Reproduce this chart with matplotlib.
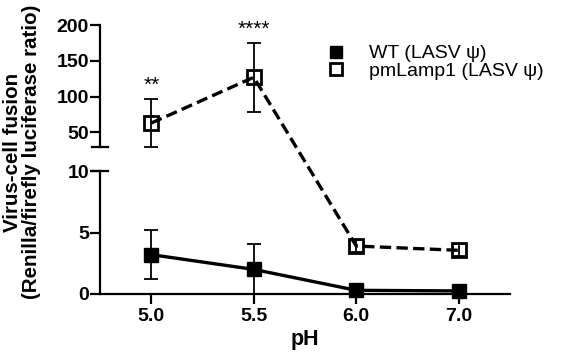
import matplotlib
matplotlib.use("Agg")
import matplotlib.pyplot as plt
from matplotlib.lines import Line2D
import numpy as np

plt.rcParams['font.family'] = ['Liberation Sans', 'DejaVu Sans']

ph_labels = ["5.0", "5.5", "6.0", "7.0"]
wt_mean = [3.2, 2.0, 0.3, 0.25]
wt_err = [2.0, 2.1, 0.1, 0.1]
pm_mean = [63, 127, 3.9, 3.55]
pm_err = [34, 48, 0.45, 0.5]
signif = ["**", "****", "", ""]
series_names = ["WT (LASV \u03c8)", "pmLamp1 (LASV \u03c8)"]

W, H = 566, 354
fig = plt.figure(figsize=(W / 100, H / 100), dpi=100)
axL, axR = 100 / W, 510 / W
ax_bot = fig.add_axes([axL, 1 - 294 / H, axR - axL, (294 - 171) / H])
ax_top = fig.add_axes([axL, 1 - 146.7 / H, axR - axL, (146.7 - 25) / H])

x = np.arange(len(ph_labels))
lw_sp = 1.6
tick_fs = 14
for ax in (ax_bot, ax_top):
    ax.set_xlim(-0.5, 3.5)
    for s in ("top", "right"):
        ax.spines[s].set_visible(False)
    ax.spines["left"].set_linewidth(lw_sp)
    ax.spines["bottom"].set_linewidth(lw_sp)
    ax.tick_params(axis="y", length=7, width=lw_sp, labelsize=tick_fs, pad=1)
    ax.patch.set_alpha(0)

ax_top.spines["bottom"].set_visible(False)
ax_top.set_xticks([])
ax_top.set_ylim(30, 200)
ax_top.set_yticks([50, 100, 150, 200])
ax_top.set_yticklabels(["50", "100", "150", "200"], fontweight="bold")

ax_bot.set_ylim(0, 10)
ax_bot.set_yticks([0, 5, 10])
ax_bot.set_yticklabels(["0", "5", "10"], fontweight="bold")
ax_bot.set_xticks(x)
ax_bot.set_xticklabels(ph_labels, fontweight="bold")
ax_bot.tick_params(axis="x", length=7, width=lw_sp, labelsize=tick_fs, pad=3)

# break marks
ax_top.plot([-0.02, 0.02], [30, 30], transform=ax_top.get_yaxis_transform(),
            color="black", lw=lw_sp, clip_on=False)
ax_bot.plot([-0.02, 0.02], [10, 10], transform=ax_bot.get_yaxis_transform(),
            color="black", lw=lw_sp, clip_on=False)

# WT series (bottom axis)
ax_bot.errorbar(x, wt_mean, yerr=wt_err, fmt="none", ecolor="black",
                elinewidth=1.3, capsize=5, capthick=1.3, clip_on=True, zorder=3)
ax_bot.plot(x, wt_mean, color="black", lw=2.4, marker="s", markersize=10,
            markerfacecolor="black", markeredgecolor="black", zorder=4, clip_on=False)

# pmLamp1 series: markers/errorbars in whichever axis holds the value
for xi, m, e in zip(x, pm_mean, pm_err):
    ax = ax_top if m > 10 else ax_bot
    ax.errorbar([xi], [m], yerr=[e], fmt="none", ecolor="black",
                elinewidth=1.3, capsize=5, capthick=1.3, zorder=3)
    ax.plot([xi], [m], marker="s", markersize=10, markerfacecolor="none",
            markeredgecolor="black", markeredgewidth=2.0, linestyle="none",
            zorder=5, clip_on=False)

# dashed line across the break, via each axis' data transform
inv = fig.transFigure.inverted()
pts = []
for xi, m in zip(x, pm_mean):
    ax = ax_top if m > 10 else ax_bot
    pts.append(inv.transform(ax.transData.transform((xi, m))))
pts = np.array(pts)
fig.add_artist(Line2D(pts[:, 0], pts[:, 1], color="black", lw=2.4,
                      linestyle=(0, (3.4, 1.6)), zorder=4))

# significance
for xi, m, e, s in zip(x, pm_mean, pm_err, signif):
    if s:
        ax_top.annotate(s, (xi, m + e), xytext=(0, 3), textcoords="offset points",
                        ha="center", va="bottom", fontsize=15)

# legend
handles = [
    Line2D([], [], marker="s", linestyle="none", markersize=8.5,
           markerfacecolor="black", markeredgecolor="black"),
    Line2D([], [], marker="s", linestyle="none", markersize=8.5,
           markerfacecolor="none", markeredgecolor="black", markeredgewidth=2.0),
]
fig.legend(handles, series_names, loc="upper left",
           bbox_to_anchor=(318 / W, 1 - 35 / H), frameon=False, fontsize=14,
           handlelength=0.8, handletextpad=1.3, labelspacing=0.0, borderpad=0)

fig.text(305 / W, 1 - 340 / H, "pH", ha="center", va="center",
         fontsize=15.5, fontweight="bold")
fig.text(22 / W, 1 - 152 / H, "Virus-cell fusion\n(Renilla/firefly luciferase ratio)",
         rotation=90, ha="center", va="center", fontsize=14.8,
         fontweight="bold", multialignment="center", linespacing=1.0)

fig.savefig("out.png", dpi=100)
